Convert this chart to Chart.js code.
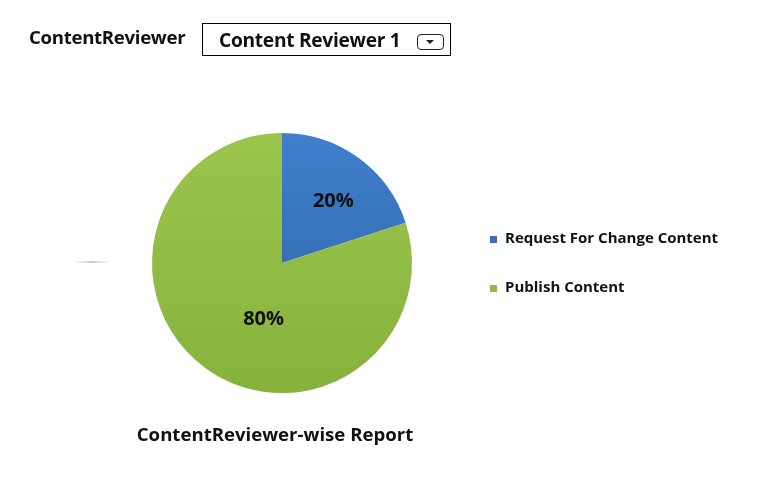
<!DOCTYPE html>
<html><head><meta charset="utf-8">
<script src="https://cdn.jsdelivr.net/npm/chart.js@4.4.1/dist/chart.umd.min.js"></script>
<style>
html,body{margin:0;padding:0;background:#fff;width:764px;height:493px;overflow:hidden;font-family:"Open Sans",sans-serif;}
#wrap{position:relative;width:764px;height:493px;}
canvas{position:absolute;left:0;top:0;}
#lbl{position:absolute;left:29px;top:24px;font-weight:bold;font-size:18.6px;color:#111;letter-spacing:-0.3px;}
#sel{position:absolute;left:202px;top:23px;width:247px;height:31px;border:1px solid #000;box-sizing:content-box;}
#selText{position:absolute;left:16px;top:2px;font-weight:bold;font-size:19.2px;color:#111;letter-spacing:-0.3px;}
#btn{position:absolute;left:214px;top:10px;width:25px;height:14px;border:1.5px solid #222;border-radius:4px;}
#btn:after{content:"";position:absolute;left:8px;top:5px;border-left:4px solid transparent;border-right:4px solid transparent;border-top:4px solid #222;}
#shade{position:absolute;left:72px;top:261px;width:40px;height:2px;background:linear-gradient(90deg,rgba(200,200,200,0),rgba(190,190,190,0.8),rgba(200,200,200,0));}
</style></head>
<body><div id="wrap">
<canvas id="c" width="764" height="493"></canvas>
<div id="lbl">ContentReviewer</div>
<div id="sel"><div id="selText">Content Reviewer 1</div><div id="btn"></div></div>
<div id="shade"></div>
</div>
<script>
const categories = ["Request For Change Content", "Publish Content"];
const values = [20, 80];
const percentLabels = ["20%", "80%"];
const chartTitle = "ContentReviewer-wise Report";

const colorTop = ["#3f7fcb", "#9cc54c"];
const colorBottom = ["#2f62a8", "#86b23c"];
const legendColors = ["#3a6db5", "#8fba45"];

function grad(ctx, i) {
  const chart = ctx.chart;
  const a = chart.chartArea;
  if (!a) return colorTop[i];
  const g = chart.ctx.createLinearGradient(0, a.top, 0, a.bottom);
  g.addColorStop(0, colorTop[i]);
  g.addColorStop(1, colorBottom[i]);
  return g;
}

const labelPlugin = {
  id: 'labelsAndLegend',
  afterDatasetsDraw(chart) {
    const c = chart.ctx;
    const meta = chart.getDatasetMeta(0);
    const factors = [0.62, 0.45];
    const offs = [[4, 4], [16, 9]];
    c.save();
    c.fillStyle = "#111";
    c.font = "bold 20px 'Open Sans', sans-serif";
    c.textAlign = "center";
    c.textBaseline = "middle";
    meta.data.forEach((arc, i) => {
      const p = arc.getProps(['x','y','startAngle','endAngle','outerRadius'], true);
      const mid = (p.startAngle + p.endAngle) / 2;
      const r = p.outerRadius * factors[i];
      c.fillText(percentLabels[i], p.x + Math.cos(mid) * r + offs[i][0], p.y + Math.sin(mid) * r + offs[i][1]);
    });
    // legend
    c.font = "bold 15px 'Open Sans', sans-serif";
    c.textAlign = "left";
    const lx = 490, ly = [239, 288];
    categories.forEach((cat, i) => {
      c.fillStyle = legendColors[i];
      c.fillRect(lx, ly[i] - 3, 7, 7);
      c.fillStyle = "#111";
      c.fillText(cat, lx + 15, ly[i]);
    });
    // title
    c.font = "bold 18.6px 'Open Sans', sans-serif";
    c.textAlign = "center";
    c.fillText(chartTitle, 275, 436);
    c.restore();
  }
};

new Chart(document.getElementById('c'), {
  type: 'pie',
  data: {
    labels: categories,
    datasets: [{
      data: values,
      backgroundColor: (ctx) => grad(ctx, ctx.dataIndex),
      borderWidth: 0
    }]
  },
  options: {
    responsive: false,
    animation: false,
    layout: { padding: { left: 152, top: 133, right: 352, bottom: 100 } },
    plugins: { legend: { display: false }, tooltip: { enabled: false }, title: { display: false } }
  },
  plugins: [labelPlugin]
});
</script>
</body></html>
